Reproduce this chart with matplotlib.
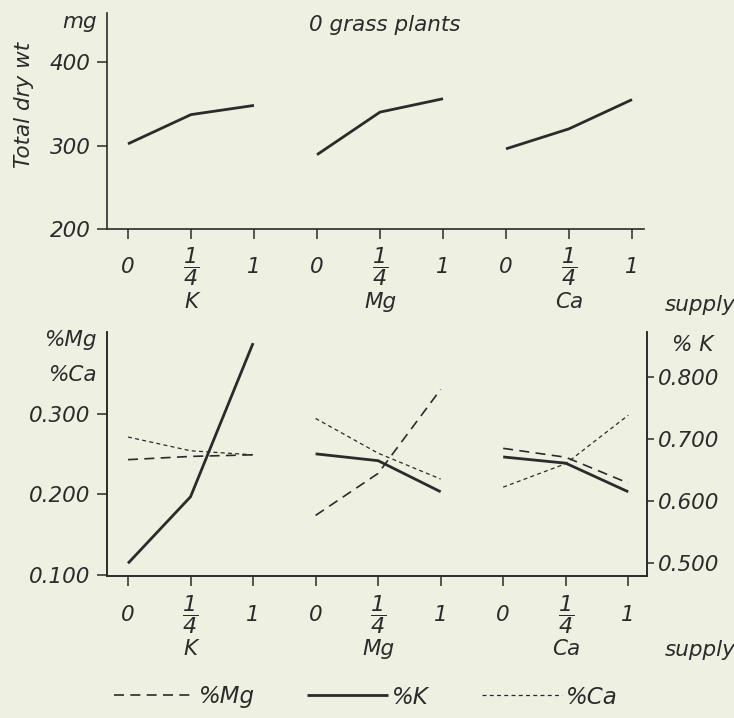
import numpy as np
import matplotlib
matplotlib.use("Agg")
import matplotlib.pyplot as plt
from matplotlib.lines import Line2D
import matplotlib.transforms as mtransforms

# ---------------- data ----------------
nutrients = ["K", "Mg", "Ca"]
supply_labels = ["0", r"$\dfrac{1}{4}$", "1"]

dry_wt_K = [302, 337, 348]
dry_wt_Mg = [289, 340, 356]
dry_wt_Ca = [296, 320, 355]

pctK_K = [0.500, 0.607, 0.854]
pctK_Mg = [0.676, 0.665, 0.615]
pctK_Ca = [0.671, 0.661, 0.615]

pctMg_K = [0.243, 0.247, 0.249]
pctMg_Mg = [0.174, 0.226, 0.330]
pctMg_Ca = [0.257, 0.246, 0.214]

pctCa_K = [0.271, 0.254, 0.249]
pctCa_Mg = [0.294, 0.251, 0.219]
pctCa_Ca = [0.209, 0.238, 0.298]

top_yticks = [200, 300, 400]
left_yticks = [0.100, 0.200, 0.300]
right_yticks = [0.500, 0.600, 0.700, 0.800]

# ---------------- style ----------------
BG = "#eef0e2"
INK = "#2b2b2b"
plt.rcParams["font.family"] = ["DejaVu Sans"]
plt.rcParams["font.style"] = "italic"
plt.rcParams["mathtext.fontset"] = "custom"
plt.rcParams["mathtext.rm"] = "DejaVu Sans:italic"
plt.rcParams["mathtext.it"] = "DejaVu Sans:italic"
plt.rcParams["text.color"] = INK
plt.rcParams["axes.edgecolor"] = INK
plt.rcParams["xtick.color"] = INK
plt.rcParams["ytick.color"] = INK
FS = 15.5

fig = plt.figure(figsize=(7.34, 7.18), dpi=100, facecolor=BG)

groups_x = [np.arange(3) + 3 * g for g in range(3)]
all_x = np.arange(9)

MG_STYLE = dict(color=INK, lw=1.2, linestyle=(0, (6, 3.8)))
K_STYLE = dict(color=INK, lw=2.0, linestyle="-", solid_capstyle="butt")
CA_STYLE = dict(color=INK, lw=0.9, linestyle=(0, (3.2, 2.6)))


def style_xaxis(ax, pad):
    ax.set_xticks(all_x)
    ax.set_xticklabels(supply_labels * 3, va="center", fontsize=FS)
    for i, lbl in enumerate(ax.get_xticklabels()):
        if i % 3 == 1:
            lbl.set_fontsize(16)
    ax.tick_params(axis="x", direction="out", length=7, width=1.1, pad=pad)
    trans = mtransforms.blended_transform_factory(ax.transData, ax.transAxes)
    return trans


# ---------------- top panel ----------------
ax1 = fig.add_axes([107 / 734, 1 - 229 / 718, 537 / 734, 216 / 718])
ax1.set_facecolor(BG)
for xs, ys in zip(groups_x, [dry_wt_K, dry_wt_Mg, dry_wt_Ca]):
    ax1.plot(xs, ys, **K_STYLE)
ax1.set_xlim(-0.333, 8.19)
ax1.set_ylim(200, 458.7)
ax1.spines["top"].set_visible(False)
ax1.spines["right"].set_visible(False)
for s in ("left", "bottom"):
    ax1.spines[s].set_linewidth(1.2)
ax1.set_yticks(top_yticks)
ax1.set_yticklabels([str(v) for v in top_yticks], fontsize=FS)
ax1.tick_params(axis="y", direction="out", length=7, width=1.1, pad=5)
tr1 = style_xaxis(ax1, 20)
for g, name in enumerate(nutrients):
    ax1.text(3 * g + 1, -0.338, name, transform=tr1, ha="center", va="center", fontsize=FS)
fig.text(700 / 734, 1 - 305 / 718, "supply", ha="center", va="center", fontsize=FS)
fig.text(385 / 734, 1 - 25 / 718, "0 grass plants", ha="center", va="center", fontsize=FS)
fig.text(80 / 734, 1 - 22 / 718, "mg", ha="center", va="center", fontsize=FS)
fig.text(24 / 734, 1 - 105 / 718, "Total dry wt", ha="center", va="center",
         rotation=90, fontsize=FS)

# ---------------- bottom panel ----------------
ax2 = fig.add_axes([107 / 734, 1 - 576 / 718, 540 / 734, 244 / 718])
ax2.set_facecolor(BG)
ax3 = ax2.twinx()
for xs, ys in zip(groups_x, [pctMg_K, pctMg_Mg, pctMg_Ca]):
    ax2.plot(xs, ys, **MG_STYLE)
for xs, ys in zip(groups_x, [pctCa_K, pctCa_Mg, pctCa_Ca]):
    ax2.plot(xs, ys, **CA_STYLE)
for xs, ys in zip(groups_x, [pctK_K, pctK_Mg, pctK_Ca]):
    ax3.plot(xs, ys, **K_STYLE)
ax2.set_xlim(-0.336, 8.30)
ax2.set_ylim(0.099, 0.401)
ax3.set_ylim(0.4796, 0.8719)
for a in (ax2, ax3):
    a.spines["top"].set_visible(False)
    for s in ("left", "bottom", "right"):
        a.spines[s].set_linewidth(1.2)
ax2.set_yticks(left_yticks)
ax2.set_yticklabels([f"{v:.3f}" for v in left_yticks], fontsize=FS)
ax2.tick_params(axis="y", direction="out", length=7, width=1.1, pad=5)
ax3.set_yticks(right_yticks)
ax3.set_yticklabels([f"{v:.3f}" for v in right_yticks], fontsize=FS)
ax3.tick_params(axis="y", direction="out", length=5, width=1.1, pad=3)
tr2 = style_xaxis(ax2, 21)
for g, name in enumerate(nutrients):
    ax2.text(3 * g + 1, -0.30, name, transform=tr2, ha="center", va="center", fontsize=FS)
fig.text(700 / 734, 1 - 650 / 718, "supply", ha="center", va="center", fontsize=FS)
fig.text(97 / 734, 1 - 340 / 718, "%Mg", ha="right", va="center", fontsize=FS)
fig.text(97 / 734, 1 - 375 / 718, "%Ca", ha="right", va="center", fontsize=FS)
fig.text(693 / 734, 1 - 345 / 718, "% K", ha="center", va="center", fontsize=FS)

# ---------------- legend ----------------
handles = [Line2D([], [], **MG_STYLE), Line2D([], [], **K_STYLE), Line2D([], [], **CA_STYLE)]
fig.legend(handles, ["%Mg", "%K", "%Ca"], ncol=3, frameon=False, loc="center",
           bbox_to_anchor=(366 / 734, 1 - 697 / 718), fontsize=16.5,
           handlelength=3.5, handletextpad=0.2, columnspacing=2.3)

fig.savefig("out.png", dpi=100, facecolor=BG)
